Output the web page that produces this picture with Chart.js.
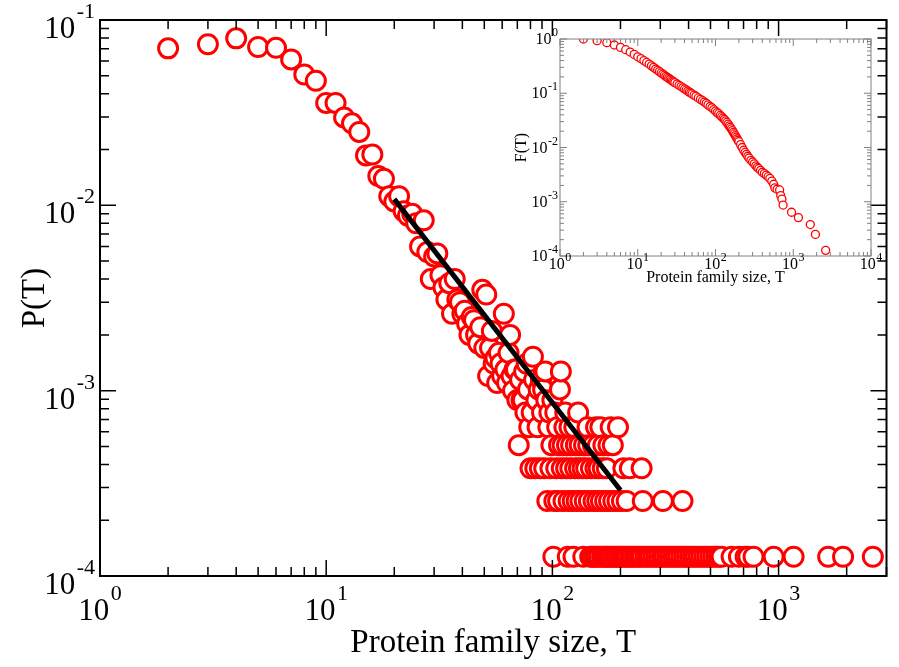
<!DOCTYPE html>
<html>
<head>
<meta charset="utf-8">
<title>Protein family size distribution</title>
<script src="https://cdn.jsdelivr.net/npm/chart.js@4.4.1/dist/chart.umd.min.js"></script>
<style>
  body { margin: 0; background: #fff; overflow: hidden; }
  #chart { position: absolute; left: 0; top: 0; }
  #inset { position: absolute; left: 500px; top: 24px; }
</style>
</head>
<body>
<canvas id="chart" width="899" height="667"></canvas>
<canvas id="inset" width="385" height="270"></canvas>
<script>
'use strict';

// main panel: P(T) for small families, one point per size
let smallSizes = [2, 3, 4, 5, 6, 7, 8, 9, 10, 11, 12, 13, 14, 15, 16, 17, 18, 19, 20,
  21, 22, 23, 24, 25, 26, 27, 28, 29, 30, 31, 32, 33, 34, 35, 36, 37, 38, 39, 40,
  41, 42, 43, 44, 45, 46, 47, 48, 49, 50, 51, 52, 53, 54, 55, 56, 57, 58, 59, 60,
  61, 62, 63, 64, 65, 66, 67, 68, 69, 70, 71, 72, 73, 74, 75, 76, 77, 78, 79, 80,
  81, 82, 83, 84, 85, 86, 87, 88, 89, 90, 91, 92, 93, 94, 95, 96, 97, 98, 99, 100];
let smallProbs = [0.0703, 0.0740, 0.0796, 0.0715, 0.0708, 0.0613, 0.0508, 0.0470, 0.0357,
  0.0357, 0.0298, 0.0277, 0.0249, 0.0186, 0.0188, 0.0144, 0.0139, 0.0112, 0.0105,
  0.0112, 0.0093, 0.0088, 0.0090, 0.0080, 0.0060, 0.0083, 0.0056, 0.0040, 0.0053,
  0.0055, 0.0042, 0.0036, 0.0031, 0.0038, 0.0026, 0.0040, 0.0031, 0.0030, 0.0026,
  0.0027, 0.0023, 0.0020, 0.0025, 0.0024, 0.0020, 0.0018, 0.0022, 0.0035, 0.0017,
  0.0033, 0.0012, 0.0017, 0.0021, 0.0014, 0.0015, 0.0011, 0.0016, 0.0014, 0.0012,
  0.0026, 0.0013, 0.0011, 0.0016, 0.0020, 0.0012, 0.0010, 0.0013, 0.0013, 0.00089,
  0.000508, 0.001143, 0.000889, 0.000889, 0.00127, 0.000762, 0.001397, 0.001016, 0.000635, 0.000381,
  0.000762, 0.001524, 0.001143, 0.000381, 0.000889, 0.000635, 0.001016, 0.000381, 0.001143, 0.000762,
  0.001016, 0.000381, 0.00127, 0.000889, 0.000254, 0.000635, 0.000762, 0.000381, 0.000508, 0.000889];

// large families: P only takes the values n/N, so the sizes are kept per level
let levelProbs = [0.000127, 0.000254, 0.000381, 0.000508, 0.000635, 0.000762, 0.001016, 0.00127];
let oneFamily = [101, 117, 124, 137, 147, 150, 154, 157, 161, 166, 169, 173, 176, 180, 184,
  189, 192, 197, 200, 205, 210, 215, 221, 226, 232, 238, 244, 250, 258, 265, 272, 280,
  288, 296, 305, 313, 322, 331, 341, 351, 361, 372, 383, 394, 406, 418, 430, 443, 456,
  470, 484, 499, 514, 530, 545, 560, 620, 668, 715, 735, 775, 951, 1165, 1657, 1928, 2610];
let twoFamilies = [102, 106, 112, 118, 123, 128, 133, 139, 145, 152, 158, 164, 171, 178,
  186, 194, 203, 213, 251, 308, 376];
let threeFamilies = [104, 110, 115, 120, 126, 131, 136, 141, 148, 155, 160, 167, 174, 206, 220, 248];
let fourFamilies = [107, 111, 116, 121, 127, 132, 138, 144, 151, 159, 168, 177, 185];
let fiveFamilies = [105, 113, 119, 125, 143, 156, 163, 181, 195];
let sixFamilies = [103, 114, 130];
let eightFamilies = [108];
let tenFamilies = [109];
let levelSizes = [oneFamily, twoFamilies, threeFamilies, fourFamilies, fiveFamilies,
  sixFamilies, eightFamilies, tenFamilies];

// power law fit line, end points
let fitSizes = [20, 200];
let fitProbs = [0.0108, 0.00029];

// inset: cumulative F(T)
let insetSizes = [2, 3, 4, 5, 6, 7, 8, 9, 10, 11, 12, 13, 14, 15, 16, 17, 18, 19,
  20, 21, 22, 23, 24, 25, 26, 27, 28, 29, 30, 32, 34, 36, 38, 40, 42, 44, 46, 48,
  50, 53, 56, 60, 64, 68, 72, 76, 80, 85, 90, 95, 100, 105, 110, 115, 120, 125, 130,
  135, 140, 145, 150, 155, 160, 165, 170, 175, 180, 185, 190, 195, 200, 210, 220, 230,
  240, 250, 260, 270, 285, 300, 315, 330, 345, 360, 380, 400, 425, 450, 475, 500, 530,
  560, 580, 620, 668, 690, 715, 740, 951, 1165, 1657, 1928, 2610];
let insetCum = [1.0, 0.93, 0.855, 0.775, 0.70, 0.635, 0.575, 0.52, 0.47, 0.435, 0.40,
  0.37, 0.345, 0.32, 0.30, 0.28, 0.265, 0.25,
  0.237, 0.226, 0.215, 0.205, 0.196, 0.188, 0.181, 0.174, 0.168, 0.162, 0.157, 0.148,
  0.140, 0.133, 0.126, 0.120, 0.115, 0.110, 0.105, 0.101,
  0.097, 0.092, 0.088, 0.082, 0.077, 0.073, 0.069, 0.065, 0.061, 0.057, 0.054, 0.050,
  0.047, 0.044, 0.042, 0.039, 0.037, 0.035, 0.033,
  0.031, 0.029, 0.027, 0.025, 0.0235, 0.022, 0.0205, 0.019, 0.0178, 0.0166, 0.0155,
  0.0145, 0.0136, 0.0128, 0.0113, 0.0100, 0.0089,
  0.0081, 0.0075, 0.0069, 0.0064, 0.0058, 0.0054, 0.0050, 0.0046, 0.0043, 0.0041,
  0.0038, 0.0035, 0.0033, 0.0031, 0.0029, 0.0027, 0.0024,
  0.0021, 0.0018, 0.0017, 0.00165, 0.0013, 0.00112, 0.00087, 0.00064, 0.00051,
  0.00038, 0.00025, 0.000127];

// tick labels
let xDecades = [0, 1, 2, 3];
let yDecades = [-4, -3, -2, -1];
let insetXDecades = [0, 1, 2, 3, 4];
let insetYDecades = [-4, -3, -2, -1, 0];

const SERIF = '"Liberation Serif", "Times New Roman", serif';

// build the point table sorted by size so overlaps stack like the original
let mainPoints = smallSizes.map(function(t, i) {
  return { x: t, y: smallProbs[i] };
});
levelSizes.forEach(function(list, k) {
  list.forEach(function(t) {
    mainPoints.push({ x: t, y: levelProbs[k] });
  });
});
mainPoints.sort(function(a, b) { return a.x - b.x; });

function minorList(min, max) {
  let out = [];
  for (let e = Math.floor(Math.log10(min)); e <= Math.ceil(Math.log10(max)); e++) {
    for (let m = 1; m <= 9; m++) {
      let v = m * Math.pow(10, e);
      if (v >= min * 0.999 && v <= max * 1.001) out.push({ v: v, major: m === 1 });
    }
  }
  return out;
}

// draws "10" with a raised exponent
function drawPow(ctx, e, x, y, align, st) {
  ctx.font = st.big + 'px ' + SERIF;
  let w1 = ctx.measureText('10').width;
  let es = String(e);
  ctx.font = st.small + 'px ' + SERIF;
  let w2 = ctx.measureText(es).width;
  let total = w1 + st.gap + w2;
  let x0 = align === 'center' ? x - total / 2 : x - total;
  ctx.textAlign = 'left';
  ctx.textBaseline = 'alphabetic';
  ctx.font = st.big + 'px ' + SERIF;
  ctx.fillText('10', x0, y);
  ctx.font = st.small + 'px ' + SERIF;
  ctx.fillText(es, x0 + w1 + st.gap, y - st.rise);
}

// frame, inward ticks on all four sides, labels and titles
function axesPlugin(cfg) {
  return {
    id: 'logAxes',
    afterDraw: function(chart) {
      let ctx = chart.ctx;
      let a = chart.chartArea;
      let xs = chart.scales.x;
      let ys = chart.scales.y;
      ctx.save();
      ctx.strokeStyle = cfg.tickColor;
      ctx.lineWidth = cfg.tickWidth;
      ctx.beginPath();
      minorList(xs.min, xs.max).forEach(function(t) {
        let px = xs.getPixelForValue(t.v);
        let len = t.major ? cfg.major : cfg.minor;
        ctx.moveTo(px, a.bottom); ctx.lineTo(px, a.bottom - len);
        ctx.moveTo(px, a.top); ctx.lineTo(px, a.top + len);
      });
      minorList(ys.min, ys.max).forEach(function(t) {
        let py = ys.getPixelForValue(t.v);
        let len = t.major ? cfg.major : cfg.minor;
        ctx.moveTo(a.left, py); ctx.lineTo(a.left + len, py);
        ctx.moveTo(a.right, py); ctx.lineTo(a.right - len, py);
      });
      ctx.stroke();

      ctx.strokeStyle = cfg.frameColor;
      ctx.lineWidth = cfg.frameWidth;
      ctx.strokeRect(a.left, a.top, a.right - a.left, a.bottom - a.top);

      ctx.fillStyle = '#000';
      cfg.xDecades.forEach(function(e) {
        let px = xs.getPixelForValue(Math.pow(10, e));
        drawPow(ctx, e, px, a.bottom + cfg.xLabelDrop, 'center', cfg.label);
      });
      cfg.yDecades.forEach(function(e) {
        let py = ys.getPixelForValue(Math.pow(10, e));
        drawPow(ctx, e, a.left - cfg.yLabelGap, py + cfg.yLabelDrop, 'right', cfg.label);
      });

      ctx.font = cfg.titleSize + 'px ' + SERIF;
      ctx.textBaseline = 'alphabetic';
      ctx.textAlign = 'center';
      ctx.fillText(cfg.xTitle, (a.left + a.right) / 2, a.bottom + cfg.xTitleDrop);
      ctx.translate(cfg.yTitleX, (a.top + a.bottom) / 2);
      ctx.rotate(-Math.PI / 2);
      ctx.fillText(cfg.yTitle, 0, 0);
      ctx.restore();
    }
  };
}

function logAxis(min, max) {
  return { type: 'logarithmic', min: min, max: max, display: false };
}

function renderMain() {
  let chartData = {
    type: 'scatter',
    data: {
      datasets: [{
        type: 'line',
        data: fitSizes.map(function(t, i) { return { x: t, y: fitProbs[i] }; }),
        borderColor: '#000',
        borderWidth: 5,
        pointRadius: 0,
        order: 0
      }, {
        data: mainPoints,
        pointRadius: 9.5,
        borderWidth: 3,
        borderColor: '#ff0000',
        backgroundColor: '#ffffff',
        order: 1
      }]
    },
    options: {
      responsive: false,
      animation: false,
      layout: { padding: { left: 100, top: 20, right: 4, bottom: 91 } },
      plugins: { legend: { display: false }, tooltip: { enabled: false } },
      scales: { x: logAxis(1, 3000), y: logAxis(1e-4, 0.1) }
    },
    plugins: [axesPlugin({
      tickColor: '#000', tickWidth: 1.5, frameColor: '#000', frameWidth: 2,
      major: 16, minor: 9,
      xDecades: xDecades, yDecades: yDecades,
      label: { big: 31, small: 22, gap: 1.5, rise: 20 },
      xLabelDrop: 44, yLabelGap: 5, yLabelDrop: 18,
      titleSize: 33, xTitle: 'Protein family size, T', xTitleDrop: 76,
      yTitle: 'P(T)', yTitleX: 44
    })]
  };
  new Chart(document.getElementById('chart'), chartData);
}

function renderInset() {
  let chartData = {
    type: 'scatter',
    data: {
      datasets: [{
        data: insetSizes.map(function(t, i) { return { x: t, y: insetCum[i] }; }),
        pointRadius: 4,
        borderWidth: 1.3,
        borderColor: '#ff0000',
        backgroundColor: '#ffffff'
      }]
    },
    options: {
      responsive: false,
      animation: false,
      layout: { padding: { left: 60, top: 15, right: 14, bottom: 38 } },
      plugins: { legend: { display: false }, tooltip: { enabled: false } },
      scales: { x: logAxis(1, 10000), y: logAxis(1e-4, 1) }
    },
    plugins: [axesPlugin({
      tickColor: '#808080', tickWidth: 1, frameColor: '#808080', frameWidth: 1,
      major: 7, minor: 4,
      xDecades: insetXDecades, yDecades: insetYDecades,
      label: { big: 16, small: 12, gap: 0.5, rise: 8 },
      xLabelDrop: 13, yLabelGap: 2, yLabelDrop: 5,
      titleSize: 16, xTitle: 'Protein family size, T', xTitleDrop: 26,
      yTitle: 'F(T)', yTitleX: 26
    })]
  };
  new Chart(document.getElementById('inset'), chartData);
}

renderMain();
renderInset();
</script>
</body>
</html>
